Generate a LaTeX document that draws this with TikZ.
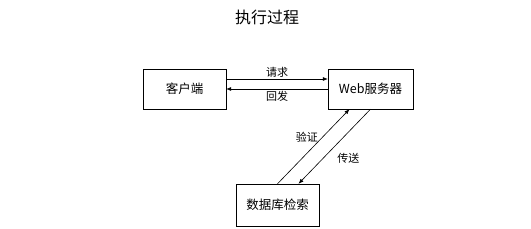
\documentclass[tikz,border=0pt]{standalone}
\usepackage{fontspec}
\setmainfont{Noto Sans CJK SC}
\usetikzlibrary{arrows.meta,positioning,shadows}

\begin{document}
\begin{tikzpicture}[
  x=1pt,y=1pt,
  font=\fontsize{12.5}{14}\selectfont,
  box/.style={draw,fill=white,inner sep=2pt,minimum height=40pt,
    drop shadow={shadow xshift=1.3pt,shadow yshift=-1.3pt,fill=black!55,opacity=1}},
  lab/.style={font=\fontsize{11}{12}\selectfont,inner sep=1pt},
  arr/.style={-{Latex[length=5pt,width=4pt]},semithick}
]
\useasboundingbox (0,0) rectangle (531,-229);

% ---------- title ----------
\node[font=\fontsize{16}{18}\selectfont] (title) at (267,-17) {执行过程};

% ---------- boxes ----------
\node[box,minimum width=83pt] (client) at (184.5,-89) {客户端};
\node[box,minimum width=85pt] (web) at (370.5,-89) {Web服务器};
\node[box,minimum width=83pt,minimum height=42pt] (db) at (277.5,-205) {数据库检索};

% ---------- request / reply ----------
\draw[arr] ([yshift=10pt]client.east) -- node[lab,above=0pt]{请求} ([yshift=10pt]web.west);
\draw[arr] (web.west) -- node[lab,below=1pt]{回发} (client.east);

% ---------- database ----------
\draw[arr] (db.north) -- node[lab,left=3pt,pos=0.62]{验证} ([xshift=-21pt]web.south);
\draw[arr] (web.south) -- node[lab,right=13pt,pos=0.66]{传送} ([xshift=21pt]db.north);

\end{tikzpicture}
\end{document}
